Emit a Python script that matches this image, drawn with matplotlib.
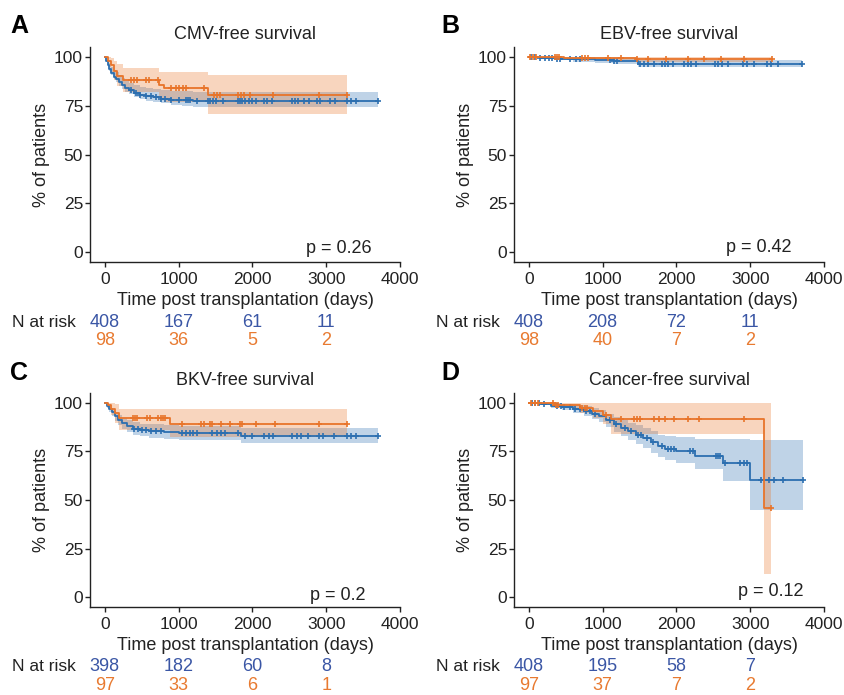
import numpy as np
import matplotlib

matplotlib.use("Agg")
import matplotlib.pyplot as plt

plt.rcParams["font.family"] = ["Liberation Sans", "DejaVu Sans"]

BLUE = "#2C6FB0"
ORANGE = "#E8742A"
BLUE_TXT = "#3A56A5"
ORANGE_TXT = "#E87A30"
INK = "#222222"

# ---- A: CMV-free survival ----
cmv_blue_t = [0, 20, 40, 60, 90, 120, 150, 190, 230, 280, 330, 400, 480, 560, 650, 760, 900, 1050, 1200]
cmv_blue_s = [100, 98, 96, 94, 92, 90, 88.5, 87, 85.5, 84, 83, 81.8, 80.8, 80, 79.3, 78.7, 78.2, 77.8, 77.3]
cmv_blue_lo = [100, 97.6, 95.3, 93, 90.8, 88.6, 87, 85.3, 83.7, 82.1, 81, 79.7, 78.6, 77.7, 76.9, 76.2, 75.6, 75.1, 74.5]
cmv_blue_hi = [100, 99.4, 98.2, 96.8, 95.1, 93.3, 92.1, 90.6, 89.2, 87.7, 86.8, 85.8, 84.9, 84.3, 83.6, 83.2, 82.8, 82.5, 82.2]
cmv_blue_end = 3700
cmv_blue_cens = [350, 420, 480, 560, 620, 700, 760, 820, 900, 1000, 1100, 1130, 1160, 1250, 1400, 1430, 1460,
                 1500, 1600, 1800, 1830, 1860, 1900, 1950, 2000, 2050, 2150, 2200, 2260, 2540, 2580, 2620,
                 2700, 2760, 2880, 2920, 3050, 3120, 3280, 3330, 3400, 3700]
cmv_orange_t = [0, 40, 80, 130, 170, 250, 740, 800, 1400]
cmv_orange_s = [100, 98, 96, 93, 90.5, 88, 85.5, 84, 80.5]
cmv_orange_lo = [100, 95, 92, 88, 85, 82, 79, 77, 71]
cmv_orange_hi = [100, 100, 99.5, 98, 96.5, 94.2, 92.5, 92.5, 90.8]
cmv_orange_end = 3280
cmv_orange_cens = [360, 400, 430, 560, 600, 720, 900, 960, 1000, 1060, 1100, 1340, 1480, 1520, 1560, 1800,
                   1850, 1880, 1970, 2280, 2900, 3280]

# ---- B: EBV-free survival ----
ebv_blue_t = [0, 150, 350, 600, 900, 1150, 1480]
ebv_blue_s = [100, 99.7, 99.2, 98.8, 98.4, 97.9, 96.6]
ebv_blue_lo = [100, 99.1, 98.3, 97.6, 97, 96.3, 94.8]
ebv_blue_hi = [100, 100, 100, 99.9, 99.7, 99.4, 98.5]
ebv_blue_end = 3700
ebv_blue_cens = [30, 80, 150, 220, 270, 320, 380, 420, 560, 640, 700, 1100, 1150, 1200, 1500, 1560, 1620,
                 1700, 1800, 1840, 1880, 1950, 2100, 2150, 2200, 2260, 2520, 2560, 2620, 2700, 2900, 2960,
                 3050, 3220, 3280, 3380, 3700]
ebv_orange_t = [0, 480, 1450]
ebv_orange_s = [100, 99.6, 99.2]
ebv_orange_lo = [100, 98.3, 97.5]
ebv_orange_hi = [100, 100, 100]
ebv_orange_end = 3300
ebv_orange_cens = [20, 60, 100, 360, 380, 410, 720, 760, 800, 1070, 1250, 1470, 1620, 1860, 2150, 2370,
                   2600, 2920, 3300]

# ---- C: BKV-free survival ----
bkv_blue_t = [0, 30, 60, 100, 140, 180, 230, 300, 380, 480, 600, 800, 1000, 1850]
bkv_blue_s = [100, 98.5, 97, 95, 93, 91, 89.5, 88, 86.7, 86, 85.5, 85, 84.3, 83]
bkv_blue_lo = [100, 97.3, 95.3, 93, 90.7, 88.4, 86.7, 85, 83.5, 82.7, 82.1, 81.5, 80.9, 79.2]
bkv_blue_hi = [100, 99.7, 98.7, 97, 95.3, 93.6, 92.3, 91, 89.9, 89.3, 88.9, 88.5, 88.1, 86.8]
bkv_blue_end = 3700
bkv_blue_cens = [400, 450, 500, 560, 620, 700, 760, 1050, 1100, 1150, 1200, 1250, 1450, 1520, 1580, 1630,
                 1800, 1900, 2000, 2150, 2220, 2280, 2540, 2600, 2660, 2750, 2900, 2960, 3100, 3280, 3340,
                 3400, 3700]
bkv_orange_t = [0, 40, 90, 140, 190, 880]
bkv_orange_s = [100, 99, 97, 94.5, 92, 89]
bkv_orange_lo = [100, 97, 93.5, 89.5, 85.9, 82.4]
bkv_orange_hi = [100, 100, 100, 99.2, 97, 97]
bkv_orange_end = 3280
bkv_orange_cens = [380, 410, 440, 570, 610, 720, 760, 790, 810, 1040, 1300, 1350, 1420, 1450, 1580, 1700,
                   1830, 1860, 2050, 2300, 2900, 3280]

# ---- D: Cancer-free survival ----
can_blue_t = [0, 150, 300, 450, 600, 750, 850, 950, 1050, 1150, 1250, 1350, 1450, 1550, 1650, 1750, 1850,
              2000, 2250, 2630, 2990]
can_blue_s = [100, 99.3, 98.5, 97.6, 96.7, 95.7, 94.3, 92.9, 91, 88.8, 86.9, 85.2, 83.5, 81.6, 79.6, 77.7,
              76.3, 75.2, 72.6, 69.2, 60.2]
can_blue_lo = [100, 98.6, 97.3, 96, 94.7, 93.3, 91.6, 89.9, 87.7, 85.1, 82.8, 80.7, 78.7, 76.5, 74.2, 72,
               70.4, 69.1, 66, 59.5, 44.8]
can_blue_hi = [100, 100, 99.7, 99.2, 98.7, 98.1, 97.1, 96, 94.3, 92.5, 91, 89.7, 88.4, 86.9, 85.2, 83.5,
               82.8, 82.3, 81.5, 81.5, 80.8]
can_blue_end = 3710
can_blue_cens = [40, 90, 140, 200, 380, 430, 480, 560, 620, 700, 780, 830, 900, 1100, 1180, 1300, 1380,
                 1480, 1520, 1600, 1680, 1800, 1880, 1920, 1960, 2190, 2230, 2530, 2560, 2590, 2660, 2860,
                 2920, 2950, 3140, 3260, 3320, 3440, 3710]
can_orange_t = [0, 350, 700, 870, 1000, 1107, 3180]
can_orange_s = [100, 99, 97.4, 95.7, 93.5, 91.4, 45.8]
can_orange_lo = [100, 97.5, 94.6, 91.9, 89, 83.7, 11.9]
can_orange_hi = [100, 100, 100, 100, 100, 100, 100]
can_orange_end = 3278
can_orange_cens = [30, 80, 130, 330, 370, 400, 720, 760, 790, 1050, 1250, 1430, 1460, 1500, 1700, 1760,
                   1850, 1960, 2160, 2300, 2910, 3278]

letters = ["A", "B", "C", "D"]
titles = ["CMV-free survival", "EBV-free survival", "BKV-free survival", "Cancer-free survival"]
p_labels = ["p = 0.26", "p = 0.42", "p = 0.2", "p = 0.12"]
p_pos = [(3170, 2.0), (3120, 2.2), (3160, 1.0), (3280, 3.2)]
risk_times = [0, 1000, 2000, 3000]
risk_blue = [[408, 167, 61, 11], [408, 208, 72, 11], [398, 182, 60, 8], [408, 195, 58, 7]]
risk_orange = [[98, 36, 5, 2], [98, 40, 7, 2], [97, 33, 6, 1], [97, 37, 7, 2]]

curves = [
    [(cmv_blue_t, cmv_blue_s, cmv_blue_lo, cmv_blue_hi, cmv_blue_end, cmv_blue_cens, BLUE),
     (cmv_orange_t, cmv_orange_s, cmv_orange_lo, cmv_orange_hi, cmv_orange_end, cmv_orange_cens, ORANGE)],
    [(ebv_blue_t, ebv_blue_s, ebv_blue_lo, ebv_blue_hi, ebv_blue_end, ebv_blue_cens, BLUE),
     (ebv_orange_t, ebv_orange_s, ebv_orange_lo, ebv_orange_hi, ebv_orange_end, ebv_orange_cens, ORANGE)],
    [(bkv_blue_t, bkv_blue_s, bkv_blue_lo, bkv_blue_hi, bkv_blue_end, bkv_blue_cens, BLUE),
     (bkv_orange_t, bkv_orange_s, bkv_orange_lo, bkv_orange_hi, bkv_orange_end, bkv_orange_cens, ORANGE)],
    [(can_blue_t, can_blue_s, can_blue_lo, can_blue_hi, can_blue_end, can_blue_cens, BLUE),
     (can_orange_t, can_orange_s, can_orange_lo, can_orange_hi, can_orange_end, can_orange_cens, ORANGE)],
]

# axes boxes in figure fractions (left, bottom, width, height)
boxes = [
    (0.1065, 0.623, 0.367, 0.309),
    (0.6083, 0.623, 0.367, 0.309),
    (0.1065, 0.1266, 0.367, 0.308),
    (0.6083, 0.1266, 0.367, 0.308),
]
# panel letter anchors in figure fractions
letter_pos = [(0.012, 0.963), (0.522, 0.963), (0.012, 0.464), (0.522, 0.464)]


def draw_km(ax, t, s, lo, hi, end, cens, color):
    tt = np.append(t, end)
    ss = np.append(s, s[-1])
    ll = np.append(lo, lo[-1])
    hh = np.append(hi, hi[-1])
    ax.fill_between(tt, ll, hh, step="post", color=color, alpha=0.3, linewidth=0)
    ax.step(tt, ss, where="post", color=color, linewidth=1.3)
    idx = np.searchsorted(t, cens, side="right") - 1
    ax.plot(cens, np.asarray(s)[idx], linestyle="none", marker="+", markersize=4.5,
            markeredgewidth=1.2, color=color)


fig = plt.figure(figsize=(8.45, 6.95), dpi=100)

for i in range(4):
    ax = fig.add_axes(boxes[i])
    for c in curves[i]:
        draw_km(ax, *c)
    ax.set_xlim(-200, 4000)
    ax.set_ylim(-5, 105)
    ax.set_xticks([0, 1000, 2000, 3000, 4000])
    ax.set_yticks([0, 25, 50, 75, 100])
    for side in ["top", "right"]:
        ax.spines[side].set_visible(False)
    for side in ["left", "bottom"]:
        ax.spines[side].set_linewidth(1.0)
        ax.spines[side].set_color(INK)
    ax.tick_params(length=3.5, width=1.0, color=INK, labelcolor=INK, labelsize=12.5)
    ax.tick_params(axis="x", pad=3.5)
    ax.tick_params(axis="y", pad=1.5)
    ax.set_title(titles[i], fontsize=13, color=INK, pad=6)
    ax.set_xlabel("Time post transplantation (days)", fontsize=13, color=INK, labelpad=4)
    ax.set_ylabel("% of patients", fontsize=13, color=INK, labelpad=3)
    ax.text(p_pos[i][0], p_pos[i][1], p_labels[i], ha="center", va="center", fontsize=13, color=INK)
    fig.text(letter_pos[i][0], letter_pos[i][1], letters[i], fontsize=18, fontweight="bold",
             color="black", ha="left", va="center")
    # number-at-risk table
    ax.text(-1250, -0.28, "N at risk", transform=ax.get_xaxis_transform(), ha="left", va="center",
            fontsize=12.5, color=INK, clip_on=False)
    for j, tr in enumerate(risk_times):
        ax.text(tr, -0.28, str(risk_blue[i][j]), transform=ax.get_xaxis_transform(), ha="center",
                va="center", fontsize=13, color=BLUE_TXT, clip_on=False)
        ax.text(tr, -0.365, str(risk_orange[i][j]), transform=ax.get_xaxis_transform(), ha="center",
                va="center", fontsize=13, color=ORANGE_TXT, clip_on=False)

fig.savefig("out.png", dpi=100, facecolor="white")
plt.close(fig)
